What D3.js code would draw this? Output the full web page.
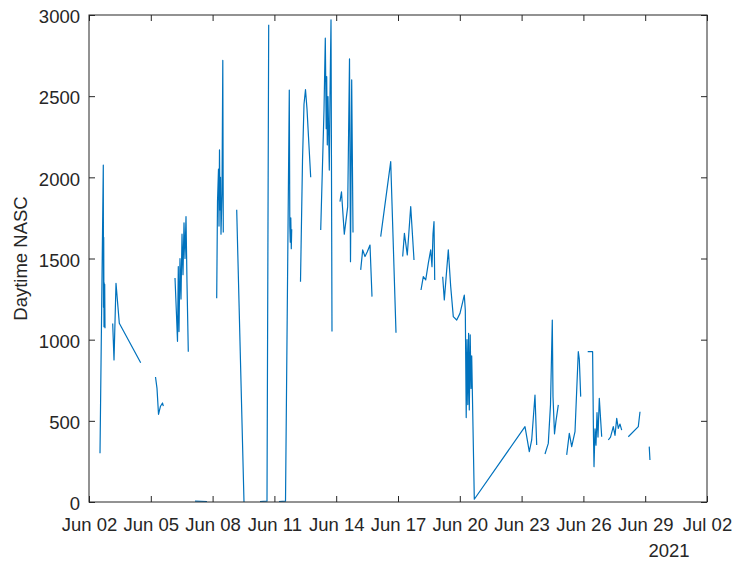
<!DOCTYPE html>
<html><head><meta charset="utf-8">
<script src="https://cdn.jsdelivr.net/npm/d3@7"></script>
<style>
html,body{margin:0;padding:0;background:#fff;}
svg{display:block;}
text{font-family:"Liberation Sans",Arial,Helvetica,sans-serif;fill:#262626;}
</style></head>
<body>
<svg id="chart" width="733" height="562"></svg>
<script>
// Time as day-of-June 2021 (fractional), NaN marks a gap in the record
const dayOfJune = [
  2.534,2.694,2.704,2.714,2.728,2.738,2.748,2.762,2.777, NaN,
  3.150,3.214,3.311,3.471,4.510, NaN,
  5.228,5.301,5.374,5.471,5.568,5.607, NaN,
  6.175,6.248,6.296,6.335,6.369,6.417,6.466,6.515,6.563,6.612,6.660,6.709,6.757,6.820, NaN,
  7.146,7.728, NaN,
  8.199,8.238,8.286,8.311,8.335,8.359,8.383,8.408,8.456,8.495,8.519, NaN,
  9.170,9.524, NaN,
  10.301,10.641,10.723, NaN,
  11.223,11.539,11.723,11.748,11.772,11.796,11.820,11.840, NaN,
  12.267,12.364,12.437,12.510,12.583,12.655,12.762, NaN,
  13.248,13.408,13.471,13.515,13.539,13.568,13.602,13.665,13.699,13.748,13.796, NaN,
  14.184,14.257,14.393,14.558,14.646,14.694,14.752,14.816, NaN,
  15.189,15.286,15.398,15.510,15.641,15.738, NaN,
  16.160,16.646,16.903, NaN,
  17.228,17.311,17.451,17.617,17.777, NaN,
  18.117,18.228,18.345,18.471,18.587,18.650,18.699,18.748,18.782, NaN,
  19.170,19.248,19.442,19.558,19.684,19.850,20.010,20.218,20.267,20.311,20.350,20.388,20.427,20.461,20.505,20.544,20.578,20.704,23.165,23.374,23.490,23.650,23.733, NaN,
  24.136,24.296,24.403,24.490,24.524,24.597,24.670,24.782, NaN,
  25.189,25.316,25.432,25.592,25.752,25.801,25.869, NaN,
  26.209,26.447,26.490,26.515,26.563,26.612,26.660,26.709,26.772,26.888, NaN,
  27.209,27.316,27.451,27.534,27.617,27.694,27.777,27.859, NaN,
  28.180,28.665,28.748, NaN,
  29.196,29.231
];
const nasc = [
  300,2076,1200,1630,1080,1350,1100,1340,1070, NaN,
  1100,875,1347,1101,858, NaN,
  770,700,540,590,610,590, NaN,
  1380,1150,990,1450,1050,1500,1250,1650,1400,1720,1500,1758,1350,926, NaN,
  5,3, NaN,
  1255,1850,2050,1700,2170,1800,2000,1650,1900,2720,1660, NaN,
  1800,0, NaN,
  3,5,2940, NaN,
  3,5,2538,1700,1600,1750,1560,1680, NaN,
  1357,2100,2450,2540,2420,2250,2000, NaN,
  1676,2415,2857,2300,2620,2200,2497,2045,2500,2970,1050, NaN,
  1850,1910,1650,1820,2730,1480,2600,1660, NaN,
  1430,1553,1512,1542,1583,1265, NaN,
  1635,2097,1043, NaN,
  1512,1655,1522,1820,1491, NaN,
  1306,1388,1368,1470,1553,1450,1650,1727,1368, NaN,
  1388,1245,1553,1327,1142,1121,1162,1275,1183,520,1000,600,1039,567,1029,700,900,17,464,310,382,659,351, NaN,
  296,361,600,1121,650,420,500,598, NaN,
  290,423,341,433,926,880,649, NaN,
  926,926,400,218,450,350,550,400,639,402, NaN,
  382,400,464,410,515,454,480,443, NaN,
  402,464,556, NaN,
  341,259
];
const xTickDays = [2,5,8,11,14,17,20,23,26,29,32]; // Jun 02 ... Jul 02
const yTicks = [0,500,1000,1500,2000,2500,3000];
const yLabel = "Daytime NASC";
const yearLabel = "2021";

const toDate = d => new Date(Date.UTC(2021,5,1) + (d-1)*864e5);

const L = 89, R = 707, T = 15, B = 502;
const x = d3.scaleUtc().domain([toDate(2), toDate(32)]).range([L, R]);
const y = d3.scaleLinear().domain([0, 3000]).range([B, T]);

const svg = d3.select("#chart");
const data = dayOfJune.map((d,i) => ({t: isNaN(d) ? null : toDate(d), v: nasc[i]}));

const line = d3.line()
  .defined(d => d.t !== null && !isNaN(d.v))
  .x(d => x(d.t)).y(d => y(d.v));

svg.append("path").datum(data)
  .attr("fill","none").attr("stroke","#0072BD").attr("stroke-width",1.2)
  .attr("stroke-linejoin","round").attr("d", line);

const fmt = d3.utcFormat("%b %d");
const xt = xTickDays.map(toDate);
const tickLen = 6;
const fs = 18.5;

// bottom axis
const xb = d3.axisBottom(x).tickValues(xt).tickFormat(fmt).tickSizeInner(-tickLen).tickSizeOuter(0).tickPadding(15);
const gx = svg.append("g").attr("transform",`translate(0,${B})`).call(xb);
// top axis ticks
const gxt = svg.append("g").attr("transform",`translate(0,${T})`)
  .call(d3.axisTop(x).tickValues(xt).tickFormat("").tickSizeInner(-tickLen).tickSizeOuter(0));
// left axis
const gy = svg.append("g").attr("transform",`translate(${L},0)`)
  .call(d3.axisLeft(y).tickValues(yTicks).tickFormat(d3.format("d")).tickSizeInner(-tickLen).tickSizeOuter(0).tickPadding(15));
// right axis ticks
const gyr = svg.append("g").attr("transform",`translate(${R},0)`)
  .call(d3.axisRight(y).tickValues(yTicks).tickFormat("").tickSizeInner(-tickLen).tickSizeOuter(0));

[gx,gxt,gy,gyr].forEach(g => {
  g.select(".domain").remove();
  g.selectAll(".tick line").attr("stroke","#262626").attr("stroke-width",1);
  g.selectAll("text").style("font-size", fs+"px").attr("fill","#262626");
});
gx.selectAll(".tick text").attr("dy", null).attr("y", 28.5);
gy.selectAll(".tick text").attr("x", -9).attr("dy","0.36em").attr("transform","translate(0,1)");

// box
svg.append("rect").attr("x",L).attr("y",T).attr("width",R-L).attr("height",B-T)
  .attr("fill","none").attr("stroke","#262626").attr("stroke-width",1);

svg.append("text").attr("x",669).attr("y",557).attr("text-anchor","middle")
  .style("font-size",fs+"px").text(yearLabel);

svg.append("text").attr("transform",`translate(27,${(T+B)/2}) rotate(-90)`)
  .attr("text-anchor","middle").style("font-size",fs+"px").text(yLabel);
</script>
</body></html>
